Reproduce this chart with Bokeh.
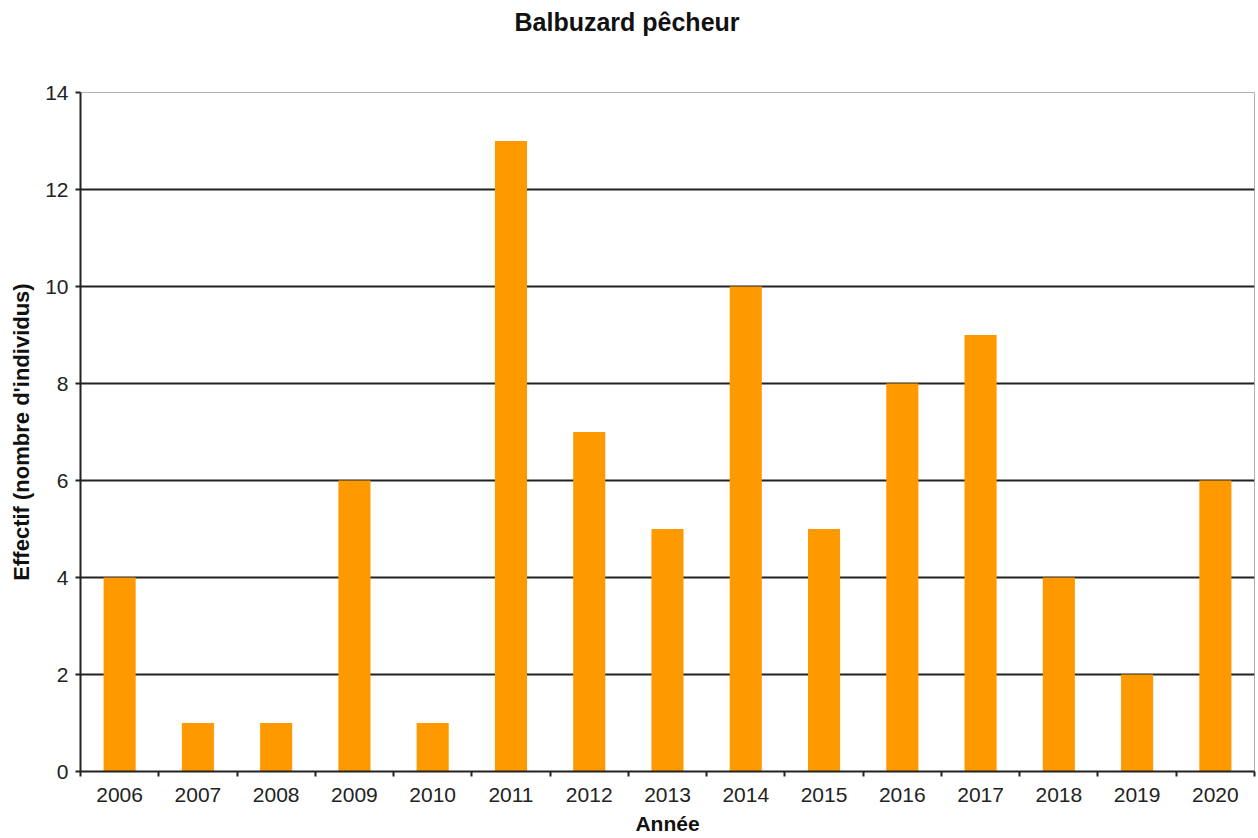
from bokeh.plotting import figure
from bokeh.models import FixedTicker, Range1d, Grid, Title
from bokeh.embed import file_html
from bokeh.resources import INLINE

years = [2006, 2007, 2008, 2009, 2010, 2011, 2012, 2013, 2014, 2015, 2016, 2017, 2018, 2019, 2020]
effectif = [4, 1, 1, 6, 1, 13, 7, 5, 10, 5, 8, 9, 4, 2, 6]
y_ticks = [0, 2, 4, 6, 8, 10, 12, 14]
title_text = "Balbuzard pêcheur"

FONT = "Liberation Sans"

p = figure(width=1256, height=838, output_backend="svg", toolbar_location=None, title=None,
           x_range=Range1d(years[0] - 0.5, years[-1] + 0.5), y_range=Range1d(0, 14))
p.min_border_left = 80
p.min_border_right = 2
p.min_border_top = 92
p.min_border_bottom = 67
p.background_fill_color = "white"
p.border_fill_color = "white"
p.outline_line_color = "#b0b0b0"

# spacer (inner) then the real title (outer)
p.add_layout(Title(text=" ", text_font=FONT, text_font_size="24px", standoff=28), "above")
p.add_layout(Title(text=title_text, align="left", offset=434, text_font=FONT,
                   text_font_size="25px", text_font_style="bold", text_color="#111111",
                   standoff=0), "above")

p.vbar(x=years, top=effectif, width=0.41, fill_color="#FF9900", line_color=None)

# axes
p.xaxis.ticker = FixedTicker(ticks=years, minor_ticks=[y - 0.5 for y in years] + [years[-1] + 0.5])
p.xaxis.major_tick_line_color = None
p.xaxis.major_tick_out = 0
p.xaxis.major_tick_in = 0
p.xaxis.minor_tick_out = 5
p.xaxis.minor_tick_in = 0
p.xaxis.minor_tick_line_color = "#222222"
p.xaxis.minor_tick_line_width = 2
p.xaxis.axis_line_color = "#222222"
p.xaxis.axis_line_width = 2
p.xaxis.major_label_text_font = FONT
p.xaxis.major_label_text_font_size = "21px"
p.xaxis.major_label_text_color = "#222222"
p.xaxis.major_label_standoff = 11
p.xaxis.axis_label = "Année"
p.xaxis.axis_label_text_font = FONT
p.xaxis.axis_label_text_font_size = "21px"
p.xaxis.axis_label_text_font_style = "bold"
p.xaxis.axis_label_text_color = "#111111"
p.xaxis.axis_label_standoff = 7

p.yaxis.ticker = FixedTicker(ticks=y_ticks)
p.yaxis.minor_tick_line_color = None
p.yaxis.major_tick_out = 5
p.yaxis.major_tick_in = 0
p.yaxis.major_tick_line_color = "#222222"
p.yaxis.major_tick_line_width = 2
p.yaxis.axis_line_color = "#222222"
p.yaxis.axis_line_width = 2
p.yaxis.major_label_text_font = FONT
p.yaxis.major_label_text_font_size = "21px"
p.yaxis.major_label_text_color = "#222222"
p.yaxis.major_label_standoff = 7
p.yaxis.axis_label = "Effectif (nombre d'individus)"
p.yaxis.axis_label_text_font = FONT
p.yaxis.axis_label_text_font_size = "22px"
p.yaxis.axis_label_text_font_style = "bold"
p.yaxis.axis_label_text_color = "#111111"
p.yaxis.axis_label_standoff = 8

p.xgrid.grid_line_color = None
p.ygrid.grid_line_color = None
p.add_layout(Grid(dimension=1, ticker=FixedTicker(ticks=y_ticks[1:-1]),
                  grid_line_color="#222222", grid_line_width=2), "center")

open("out.html", "w").write(file_html(p, INLINE))
